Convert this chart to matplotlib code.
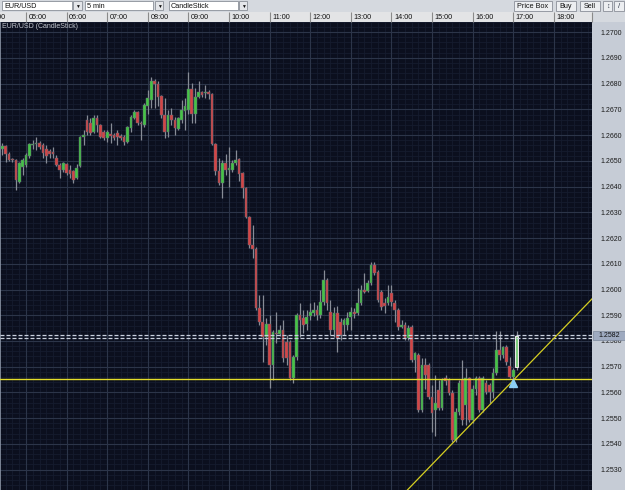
import numpy as np
import pandas as pd
import matplotlib
matplotlib.use('Agg')
import matplotlib.pyplot as plt
import matplotlib.transforms as mtransforms
from matplotlib.patches import Rectangle

plt.rcParams['font.family'] = ['Liberation Sans', 'DejaVu Sans']

# 5 min EUR/USD candles, 04:25 -> 17:05
times = pd.date_range('2010-06-01 04:25', periods=153, freq='5min')

opens = [
    1.26548, 1.26556, 1.26525, 1.26506, 1.26502, 1.26416, 1.26475, 1.26483, 1.26517, 1.26560,
    1.26564, 1.26568, 1.26560, 1.26548, 1.26537, 1.26533, 1.26513, 1.26483, 1.26463, 1.26486,
    1.26463, 1.26459, 1.26432, 1.26479, 1.26591, 1.26657, 1.26649, 1.26611, 1.26665, 1.26638,
    1.26614, 1.26587, 1.26603, 1.26599, 1.26607, 1.26595, 1.26591, 1.26572, 1.26626, 1.26665,
    1.26688, 1.26649, 1.26638, 1.26715, 1.26735, 1.26812, 1.26797, 1.26751, 1.26677, 1.26611,
    1.26680, 1.26657, 1.26622, 1.26657, 1.26692, 1.26696, 1.26781, 1.26684, 1.26747, 1.26766,
    1.26762, 1.26766, 1.26758, 1.26564, 1.26459, 1.26413, 1.26490, 1.26463, 1.26463, 1.26490,
    1.26506, 1.26452, 1.26393, 1.26281, 1.26172, 1.26156, 1.25927, 1.25873, 1.25815, 1.25865,
    1.25706, 1.25830, 1.25826, 1.25842, 1.25795, 1.25795, 1.25656, 1.25737, 1.25900, 1.25889,
    1.25865, 1.25896, 1.25908, 1.25920, 1.25900, 1.25951, 1.26036, 1.25912, 1.25842, 1.25908,
    1.25873, 1.25861, 1.25861, 1.25892, 1.25912, 1.25908, 1.25947, 1.25997, 1.25993, 1.26024,
    1.26094, 1.26067, 1.25989, 1.25947, 1.25947, 1.25986, 1.25947, 1.25920, 1.25854, 1.25861,
    1.25811, 1.25854, 1.25726, 1.25745, 1.25531, 1.25706, 1.25706, 1.25582, 1.25531, 1.25609,
    1.25539, 1.25656, 1.25648, 1.25597, 1.25415, 1.25524, 1.25648, 1.25551, 1.25656, 1.25493,
    1.25613, 1.25656, 1.25531, 1.25636, 1.25629, 1.25601, 1.25675, 1.25764, 1.25745, 1.25776,
    1.25702, 1.25660, 1.25698]

closes = [
    1.26556, 1.26525, 1.26502, 1.26502, 1.26424, 1.26490, 1.26502, 1.26521, 1.26564, 1.26564,
    1.26568, 1.26552, 1.26529, 1.26517, 1.26525, 1.26525, 1.26483, 1.26463, 1.26490, 1.26452,
    1.26448, 1.26424, 1.26471, 1.26591, 1.26599, 1.26611, 1.26607, 1.26665, 1.26638, 1.26591,
    1.26587, 1.26614, 1.26595, 1.26587, 1.26591, 1.26587, 1.26572, 1.26630, 1.26669, 1.26688,
    1.26646, 1.26642, 1.26719, 1.26743, 1.26812, 1.26797, 1.26747, 1.26677, 1.26614, 1.26680,
    1.26657, 1.26626, 1.26665, 1.26696, 1.26715, 1.26781, 1.26684, 1.26747, 1.26766, 1.26755,
    1.26766, 1.26758, 1.26564, 1.26459, 1.26413, 1.26490, 1.26463, 1.26471, 1.26490, 1.26502,
    1.26448, 1.26393, 1.26281, 1.26172, 1.26156, 1.25927, 1.25873, 1.25815, 1.25865, 1.25706,
    1.25834, 1.25826, 1.25842, 1.25733, 1.25733, 1.25656, 1.25737, 1.25900, 1.25881, 1.25861,
    1.25892, 1.25912, 1.25920, 1.25900, 1.25951, 1.26036, 1.25947, 1.25842, 1.25908, 1.25811,
    1.25822, 1.25881, 1.25889, 1.25912, 1.25904, 1.25947, 1.25997, 1.25989, 1.26024, 1.26094,
    1.26063, 1.25958, 1.25931, 1.25935, 1.25970, 1.25951, 1.25920, 1.25854, 1.25861, 1.25811,
    1.25850, 1.25726, 1.25753, 1.25531, 1.25706, 1.25667, 1.25582, 1.25520, 1.25559, 1.25539,
    1.25648, 1.25644, 1.25597, 1.25415, 1.25524, 1.25636, 1.25493, 1.25656, 1.25493, 1.25613,
    1.25656, 1.25531, 1.25656, 1.25601, 1.25601, 1.25675, 1.25764, 1.25745, 1.25776, 1.25718,
    1.25660, 1.25687, 1.25820]

highs = [
    1.26568, 1.26560, 1.26533, 1.26510, 1.26506, 1.26494, 1.26510, 1.26529, 1.26568, 1.26580,
    1.26591, 1.26576, 1.26568, 1.26560, 1.26545, 1.26552, 1.26521, 1.26490, 1.26494, 1.26490,
    1.26483, 1.26463, 1.26486, 1.26595, 1.26618, 1.26680, 1.26665, 1.26680, 1.26677, 1.26642,
    1.26618, 1.26618, 1.26646, 1.26607, 1.26618, 1.26603, 1.26599, 1.26634, 1.26680, 1.26696,
    1.26692, 1.26653, 1.26723, 1.26774, 1.26824, 1.26820, 1.26812, 1.26755, 1.26743, 1.26696,
    1.26704, 1.26669, 1.26669, 1.26735, 1.26743, 1.26844, 1.26801, 1.26785, 1.26812, 1.26770,
    1.26793, 1.26774, 1.26762, 1.26568, 1.26513, 1.26502, 1.26525, 1.26552, 1.26502, 1.26541,
    1.26513, 1.26455, 1.26397, 1.26285, 1.26250, 1.26164, 1.25979, 1.25979, 1.25889, 1.25900,
    1.25842, 1.25912, 1.25861, 1.25881, 1.25822, 1.25803, 1.25745, 1.25908, 1.25947, 1.25920,
    1.25920, 1.25947, 1.25951, 1.25939, 1.25997, 1.26075, 1.26044, 1.25958, 1.25931, 1.25935,
    1.25889, 1.25889, 1.25912, 1.25931, 1.25927, 1.26005, 1.26017, 1.26063, 1.26036, 1.26106,
    1.26106, 1.26075, 1.25997, 1.25966, 1.26017, 1.26017, 1.25958, 1.25927, 1.25881, 1.25873,
    1.25861, 1.25861, 1.25757, 1.25753, 1.25733, 1.25733, 1.25714, 1.25629, 1.25667, 1.25648,
    1.25656, 1.25667, 1.25656, 1.25609, 1.25539, 1.25648, 1.25726, 1.25694, 1.25660, 1.25629,
    1.25663, 1.25663, 1.25663, 1.25648, 1.25636, 1.25694, 1.25838, 1.25838, 1.25780, 1.25784,
    1.25737, 1.25694, 1.25838]

lows = [
    1.26521, 1.26494, 1.26498, 1.26494, 1.26385, 1.26413, 1.26444, 1.26475, 1.26513, 1.26548,
    1.26541, 1.26548, 1.26510, 1.26490, 1.26513, 1.26510, 1.26479, 1.26432, 1.26455, 1.26444,
    1.26432, 1.26413, 1.26428, 1.26475, 1.26560, 1.26599, 1.26599, 1.26607, 1.26611, 1.26587,
    1.26580, 1.26572, 1.26568, 1.26580, 1.26560, 1.26580, 1.26560, 1.26568, 1.26614, 1.26661,
    1.26638, 1.26580, 1.26630, 1.26684, 1.26704, 1.26704, 1.26715, 1.26665, 1.26587, 1.26591,
    1.26638, 1.26599, 1.26618, 1.26649, 1.26618, 1.26684, 1.26646, 1.26649, 1.26743, 1.26747,
    1.26743, 1.26739, 1.26560, 1.26444, 1.26405, 1.26354, 1.26444, 1.26397, 1.26455, 1.26483,
    1.26420, 1.26354, 1.26277, 1.26160, 1.26121, 1.25920, 1.25861, 1.25718, 1.25784, 1.25617,
    1.25648, 1.25792, 1.25819, 1.25718, 1.25706, 1.25648, 1.25636, 1.25726, 1.25815, 1.25830,
    1.25842, 1.25881, 1.25896, 1.25881, 1.25889, 1.25939, 1.25920, 1.25822, 1.25815, 1.25757,
    1.25803, 1.25822, 1.25842, 1.25842, 1.25889, 1.25900, 1.25939, 1.25986, 1.25989, 1.26017,
    1.26055, 1.25951, 1.25920, 1.25908, 1.25939, 1.25935, 1.25873, 1.25842, 1.25850, 1.25803,
    1.25803, 1.25718, 1.25679, 1.25524, 1.25524, 1.25613, 1.25574, 1.25446, 1.25430, 1.25531,
    1.25531, 1.25629, 1.25590, 1.25407, 1.25407, 1.25512, 1.25473, 1.25473, 1.25485, 1.25481,
    1.25590, 1.25524, 1.25524, 1.25593, 1.25559, 1.25578, 1.25667, 1.25726, 1.25733, 1.25706,
    1.25656, 1.25640, 1.25687]

price_ticks = [1.2530, 1.2540, 1.2550, 1.2560, 1.2570, 1.2580, 1.2590, 1.2600, 1.2610,
               1.2620, 1.2630, 1.2640, 1.2650, 1.2660, 1.2670, 1.2680, 1.2690, 1.2700]
hour_ticks = [4, 5, 6, 7, 8, 9, 10, 11, 12, 13, 14, 15, 16, 17, 18]
hour_labels = ['04:00', '05:00', '06:00', '07:00', '08:00', '09:00', '10:00', '11:00',
               '12:00', '13:00', '14:00', '15:00', '16:00', '17:00', '18:00']

bid, ask = 1.25811, 1.25822
support = 1.25652
trend_x = [15.0, 18.0]
trend_y = [1.2532, 1.2581]
alert_time, alert_price = 17.0, 1.25636

W, H = 625, 490
fig = plt.figure(figsize=(W / 100, H / 100), dpi=100, facecolor='#c6ccd6')


def box(x0, y0, x1, y1, fc, ec='none', lw=0.6, z=-1):
    # pixel-space rectangle on the figure (top-left origin)
    fig.patches.append(Rectangle((x0 / W, 1 - y1 / H), (x1 - x0) / W, (y1 - y0) / H,
                                 transform=fig.transFigure, fc=fc, ec=ec, lw=lw, zorder=z))


def label(x, y, s, size=5.2, color='#101010', z=2, **kw):
    fig.text(x / W, 1 - y / H, s, fontsize=size, color=color, va='center', zorder=z, **kw)


# toolbar
box(0, 0, W, 12, '#d5d9df')
for x0, x1, a0, a1, s in [(2, 72, 73, 82, 'EUR/USD'), (85, 153, 155, 163, '5 min'),
                          (169, 238, 239, 247, 'CandleStick')]:
    box(x0, 1.5, x1, 10.5, '#ffffff', '#8a8f98')
    box(a0, 1.5, a1, 10.5, '#e4e6ea', '#8a8f98')
    label(x0 + 2, 6, s)
    label((a0 + a1) / 2, 6.3, '\u25bc', size=3.5, ha='center')
for x0, x1, s in [(514, 552, 'Price Box'), (556, 576, 'Buy'), (580, 600, 'Sell')]:
    box(x0, 1, x1, 11, '#eceef1', '#8a8f98')
    label((x0 + x1) / 2, 6, s, ha='center')
box(603, 1, 612, 11, '#eceef1', '#8a8f98')
box(614, 1, 624, 11, '#eceef1', '#8a8f98')
label(607.5, 6, '\u2195', size=5, ha='center', color='#303848')
label(619, 6, '/', size=5.5, ha='center', color='#303848')

# time header row
box(0, 12, 592, 22.5, '#e3e4e6')
box(592, 12, W, 22.5, '#d5d9df')

ax = fig.add_axes([0, 0, 592 / W, (H - 22.5) / H])
ax.set_facecolor('#0b0f1e')
ax.set_xlim(4.3596, 18.941)
ax.set_ylim(1.252209, 1.270377)

# grid: faint minor + brighter major
for p in np.arange(1.2522, 1.2706, 0.0002):
    ax.axhline(p, color='#151c2e', lw=0.6, zorder=0.5)
for t in np.arange(4.0, 19.0, 1 / 6):
    ax.axvline(t, color='#151c2e', lw=0.6, zorder=0.5)
for p in price_ticks:
    ax.axhline(p, color='#2c3549', lw=0.8, zorder=0.6)
for h in hour_ticks:
    ax.axvline(h, color='#2c3549', lw=0.8, zorder=0.6)

# candles
x = np.asarray(times.hour + times.minute / 60.0)
o, c = np.array(opens), np.array(closes)
hi, lo = np.array(highs), np.array(lows)
up = c >= o
colors = np.where(up, '#44c444', '#d44444')
bottoms = np.minimum(o, c)
heights = np.maximum(np.abs(c - o), 0.00003)
ax.vlines(x, lo, hi, color='#878c96', lw=0.9, zorder=3)
ax.bar(x, heights, bottom=bottoms, width=0.066, color=colors, edgecolor='#626876',
       linewidth=0.35, zorder=4)
ax.bar(x[-1], heights[-1], bottom=bottoms[-1], width=0.066, color='#7fcf7f',
       edgecolor='#f0e8ec', linewidth=0.7, zorder=4.5)

# lines and markers
ax.axhline(support, color='#e4dd2a', lw=1.0, zorder=5)
for p in (bid, ask):
    ax.axhline(p, color='#c9d0de', lw=0.9, ls=(0, (3.2, 1.6)), zorder=5)
ax.axline((trend_x[0], trend_y[0]), (trend_x[1], trend_y[1]), color='#d6cf22', lw=0.9, zorder=5)
ax.plot([alert_time], [alert_price], marker='^', ms=5.5, color='#8ccff5', zorder=6)

# header labels and separators (in axes, above the plot)
hdr = mtransforms.blended_transform_factory(ax.transData, ax.transAxes)
ax.vlines(hour_ticks, 1.0, 1.0 + 10.5 / (H - 22.5), transform=hdr, color='#8a8a8a',
          lw=0.8, clip_on=False, zorder=2)
for h, s in zip(hour_ticks, hour_labels):
    ax.annotate(s, xy=(h, 1.0), xycoords=hdr, xytext=(1.8, 3.8), textcoords='offset points',
                fontsize=5.2, color='#101010', va='center', ha='left', annotation_clip=False)
ax.vlines([18.941], 1.0, 1.0 + 10.5 / (H - 22.5), transform=hdr, color='#8a8a8a',
          lw=0.8, clip_on=False, zorder=2)

ax.text(0.004, 1.0 - 4.5 / (H - 22.5), 'EUR/USD (CandleStick)', transform=ax.transAxes,
        fontsize=5.0, color='#c4c8d0', va='center', ha='left', zorder=7)

# price axis on the right
ax.yaxis.tick_right()
ax.set_yticks(price_ticks)
ax.set_yticklabels([f'{p:.4f}' for p in price_ticks])
ax.tick_params(axis='y', length=0, pad=6, labelsize=5.0, labelcolor='#1a1a1a')
ax.set_xticks([])
for side in ('top', 'right', 'bottom'):
    ax.spines[side].set_visible(False)
ax.spines['left'].set_color('#8d97a8')
ax.spines['left'].set_linewidth(1.2)

# current price box
yb = ax.transData.transform((0, ask))[1]
yb = H - yb
box(593, yb - 4.5, W, yb + 4.5, '#9eaac0', '#7d889c', lw=0.5, z=5)
label(598, yb, f'{ask:.4f}', size=5.0, z=6)

fig.savefig('out.png', dpi=100, facecolor=fig.get_facecolor())
